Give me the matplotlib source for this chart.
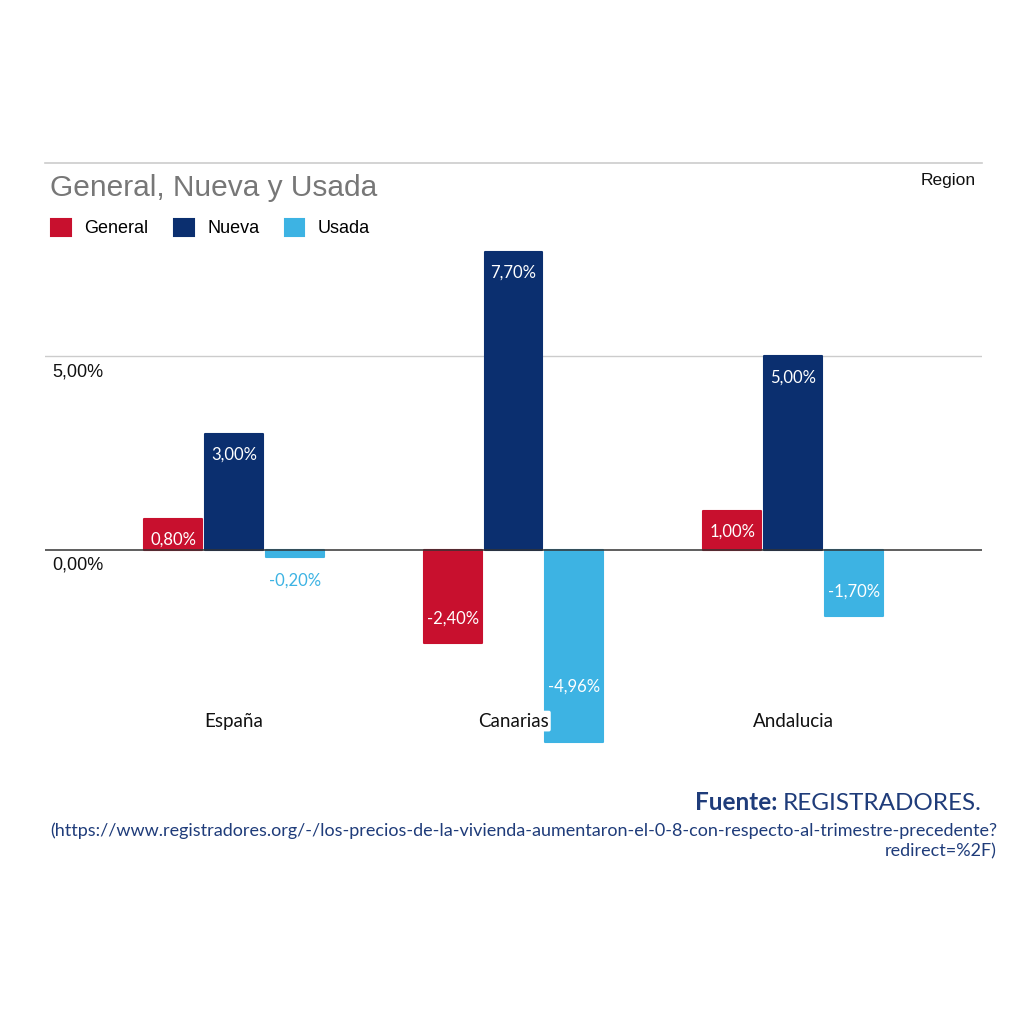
import matplotlib
matplotlib.use("Agg")
import matplotlib.pyplot as plt
import matplotlib.transforms as mtransforms
import numpy as np

categories = ["España", "Canarias", "Andalucia"]
series_names = ["General", "Nueva", "Usada"]
general = [0.80, -2.40, 1.00]
nueva = [3.00, 7.70, 5.00]
usada = [-0.20, -4.96, -1.70]
tick_values = [0, 5]
tick_labels = ["0,00%", "5,00%"]

colors = ["#C8102E", "#0B2F6F", "#3DB3E3"]
series = [general, nueva, usada]

fig = plt.figure(figsize=(10.24, 10.24), dpi=100)
ax = fig.add_axes([45/1024, 1-747/1024, (982-45)/1024, (747-163)/1024])
ax.set_xlim(-0.676, 2.676)
ax.set_ylim(-5.1, 10)
for s in ax.spines.values():
    s.set_visible(False)
ax.set_xticks([])
ax.set_yticks([])

# gridlines
ax.axhline(5, color="#CCCCCC", lw=1, zorder=0)
ax.axhline(10, color="#CCCCCC", lw=1.2, zorder=0, clip_on=False)

x = np.arange(len(categories))
width = 0.207
offsets = [-0.217, 0.0, 0.217]
bars_all = []
for name, vals, col, off in zip(series_names, series, colors, offsets):
    bars = ax.bar(x + off, vals, width, color=col, edgecolor=col, linewidth=1.5,
                  joinstyle="round", label=name, zorder=2)
    bars_all.append(bars)
    for xi, v in zip(x + off, vals):
        txt = f"{v:.2f}%".replace(".", ",")
        if v >= 0:
            ax.annotate(txt, (xi, v), xytext=(0, -15), textcoords="offset points",
                        ha="center", va="center", color="white", fontsize=12,
                        family="Lato", zorder=4)
        elif v > -0.6:
            ax.annotate(txt, (xi, v), xytext=(0, -17), textcoords="offset points",
                        ha="center", va="center", color=col, fontsize=12,
                        family="Lato", zorder=4)
        else:
            ax.annotate(txt, (xi, max(v + 0.62, -3.53)), ha="center", va="center",
                        color="white", fontsize=12, family="Lato", zorder=4)

ax.axhline(0, color="#333333", lw=1.1, zorder=3)

# y tick labels inside the plot area, below their gridlines
for tv, tl in zip(tick_values, tick_labels):
    ax.annotate(tl, (0, tv), xycoords=mtransforms.blended_transform_factory(ax.transAxes, ax.transData),
                xytext=(5, -11), textcoords="offset points", ha="left", va="center",
                fontsize=13, family="Liberation Sans", color="#111111")

# category labels
for xi, c in zip(x, categories):
    ax.text(xi, -4.43, c, ha="center", va="center", fontsize=13.5, family="Lato",
            color="#111111", zorder=5,
            bbox=dict(boxstyle="round,pad=0.1", fc="white", ec="none"))

# title and legend
fig.text(50/1024, 1-188/1024, "General, Nueva y Usada", fontsize=21.5,
         family="Liberation Sans", color="#777777", ha="left", va="center")
fig.text(976/1024, 1-180/1024, "Region", fontsize=12.5,
         family="Liberation Sans", color="#111111", ha="right", va="center")
leg = fig.legend(handles=[b for b in bars_all], labels=series_names, loc="center left",
                 bbox_to_anchor=(51/1024, 1-228/1024), ncol=3, frameon=False,
                 prop=dict(family="Liberation Sans", size=13),
                 handlelength=1.1, handleheight=1.1, handletextpad=0.75,
                 columnspacing=1.4, borderaxespad=0, borderpad=0)

# footer
navy = "#1F3C7A"
t1 = fig.text(982/1024, 1-803/1024, "REGISTRADORES.", fontsize=17.5, family="Lato",
              weight="normal", color=navy, ha="right", va="center")
ax.annotate("Fuente: ", xy=(0, 0), xycoords=t1, ha="right", va="bottom",
            fontsize=17.5, family="Lato", weight="bold", color=navy, annotation_clip=False)
fig.text(997/1024, 1-831/1024,
         "(https://www.registradores.org/-/los-precios-de-la-vivienda-aumentaron-el-0-8-con-respecto-al-trimestre-precedente?",
         fontsize=12.95, family="Lato", weight="normal", color=navy, ha="right", va="center")
fig.text(997/1024, 1-851/1024, "redirect=%2F)", fontsize=12.95, family="Lato",
         weight="normal", color=navy, ha="right", va="center")

fig.savefig("out.png", dpi=100, facecolor="white")
